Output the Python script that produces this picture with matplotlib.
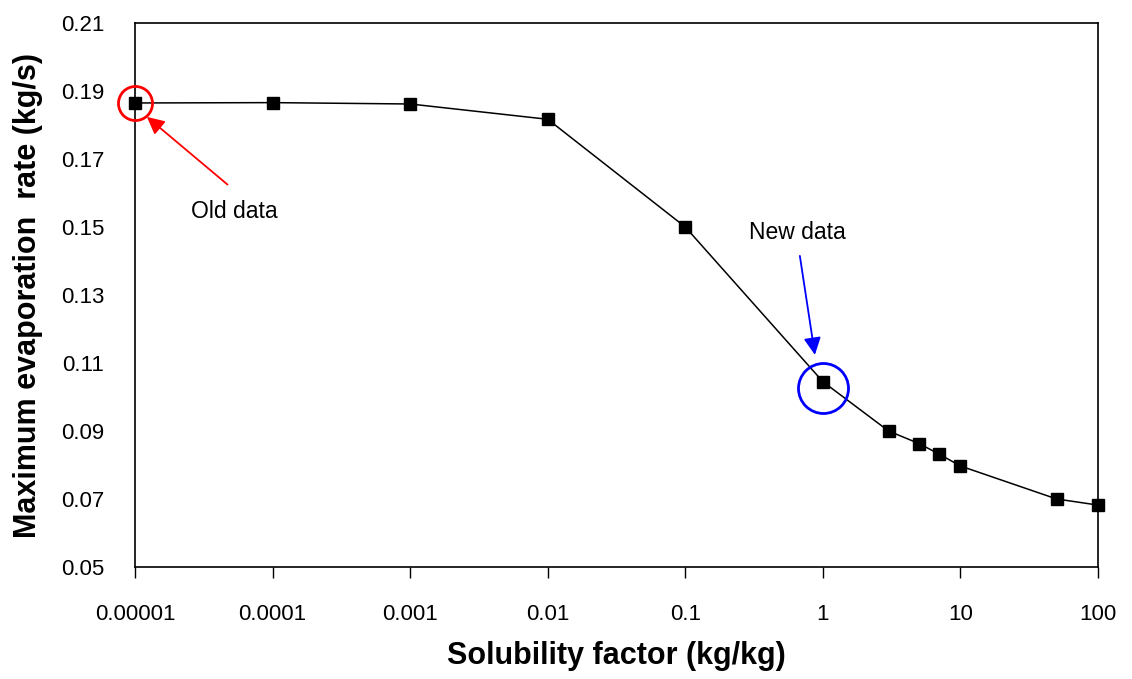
import matplotlib
matplotlib.use("Agg")
import matplotlib.pyplot as plt
import numpy as np

solubility = [1e-5, 1e-4, 1e-3, 1e-2, 0.1, 1, 3, 5, 7, 10, 50, 100]
evap_rate = [0.1865, 0.1866, 0.1862, 0.1817, 0.1500, 0.1045, 0.0900, 0.0863,
             0.0832, 0.0797, 0.0700, 0.0682]
x_ticks = [1e-5, 1e-4, 1e-3, 1e-2, 0.1, 1, 10, 100]
x_tick_labels = ["0.00001", "0.0001", "0.001", "0.01", "0.1", "1", "10", "100"]
y_ticks = [0.05, 0.07, 0.09, 0.11, 0.13, 0.15, 0.17, 0.19, 0.21]
y_tick_labels = ["0.05", "0.07", "0.09", "0.11", "0.13", "0.15", "0.17", "0.19", "0.21"]

plt.rcParams['font.family'] = ['Liberation Sans', 'DejaVu Sans']

fig = plt.figure(figsize=(11.32, 6.79), dpi=100)
ax = fig.add_axes([0.1193, 0.165, 0.8507, 0.801])
ax.set_xscale('log')
ax.plot(solubility, evap_rate, color='black', lw=1.1, marker='s', markersize=8,
        markerfacecolor='black', markeredgecolor='black', zorder=3, clip_on=False)
ax.set_xlim(1e-5, 100)
ax.set_ylim(0.05, 0.21)
ax.set_xticks(x_ticks)
ax.set_xticklabels(x_tick_labels)
ax.minorticks_off()
ax.set_yticks(y_ticks)
ax.set_yticklabels(y_tick_labels)
ax.tick_params(axis='x', direction='out', length=8, width=1, labelsize=16, pad=19)
ax.tick_params(axis='y', direction='out', length=0, width=1, labelsize=16, pad=22)
for s in ax.spines.values():
    s.set_linewidth(1.2)
ax.set_xlabel("Solubility factor (kg/kg)", fontsize=22, fontweight='bold', labelpad=11)
ax.set_ylabel("Maximum evaporation  rate (kg/s)", fontsize=22, fontweight='bold', labelpad=13)

# highlight circles
ax.plot([solubility[0]], [evap_rate[0]], marker='o', markersize=24.5, fillstyle='none',
        markeredgecolor='red', markeredgewidth=2, clip_on=False, zorder=4)
ax.plot([solubility[5]], [evap_rate[5] - 0.0018], marker='o', markersize=36, fillstyle='none',
        markeredgecolor='blue', markeredgewidth=2, clip_on=False, zorder=4)

# arrows and labels
ax.annotate("", xy=(1.22e-5, 0.1824), xytext=(4.7e-5, 0.1625),
            arrowprops=dict(arrowstyle='-|>', color='red', lw=1.3, mutation_scale=26,
                            shrinkA=0, shrinkB=0))
ax.text(5.3e-5, 0.1545, "Old data", fontsize=16.5, ha='center', va='center')
ax.annotate("", xy=(0.875, 0.1124), xytext=(0.68, 0.1415),
            arrowprops=dict(arrowstyle='-|>', color='blue', lw=1.3, mutation_scale=26,
                            shrinkA=0, shrinkB=0))
ax.text(0.65, 0.1485, "New data", fontsize=16.5, ha='center', va='center')

fig.savefig("out.png", dpi=100)
